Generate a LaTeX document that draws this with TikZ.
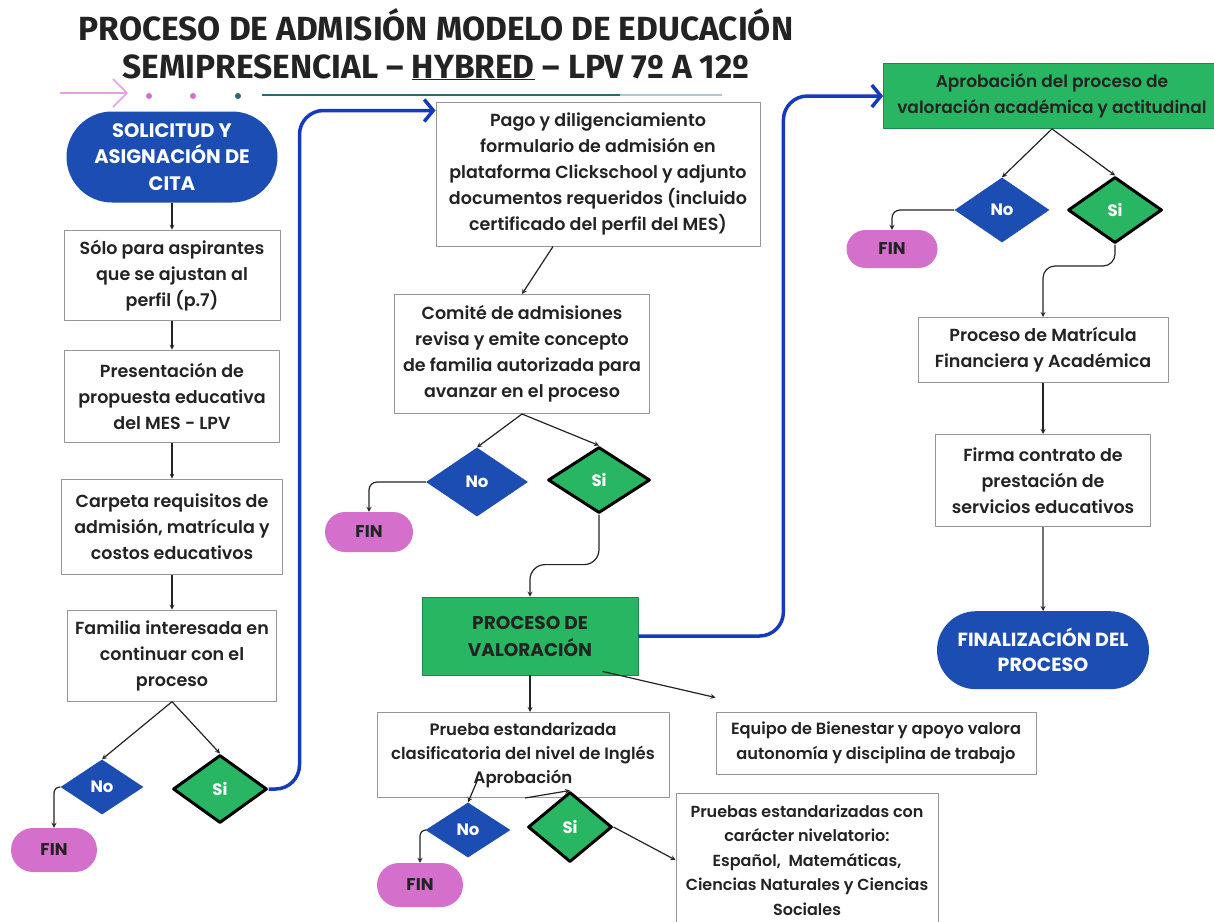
\documentclass[tikz,border=0pt]{standalone}
\usepackage{fontspec}
\setmainfont{Poppins}
\newfontfamily\medfont{Poppins SemiBold}
\newfontfamily\titlefont{Fira Sans}
\usepackage{tikz}
\usetikzlibrary{ positioning, shapes.geometric, shapes.misc, arrows, arrows.meta, calc }
\definecolor{flowblue}{RGB}{27,77,178}
\definecolor{flowgreen}{RGB}{40,182,98}
\definecolor{finpink}{RGB}{212,112,204}
\definecolor{linkblue}{RGB}{22,58,190}
\definecolor{boxgray}{RGB}{150,150,150}
\definecolor{inkdark}{RGB}{35,35,35}
\definecolor{decopink}{RGB}{228,160,226}
\definecolor{decoteal}{RGB}{45,105,110}
\definecolor{decolight}{RGB}{170,200,205}

\begin{document}
\begin{tikzpicture}[x=1pt, y=-1pt, line join=round,
stepbox/.style={rectangle, draw=boxgray, line width=1pt, fill=white,
align=center, inner sep=2pt, text=inkdark,
font=\medfont\fontsize{17.5}{26}\selectfont},
greenbox/.style={rectangle, draw=flowgreen!75!black, line width=0.8pt,
fill=flowgreen, align=center, inner sep=2pt, text=inkdark},
pill/.style={rounded rectangle, fill=#1, align=center, inner sep=2pt,
text=white, font=\bfseries\fontsize{19.5}{26.5}\selectfont},
nodiam/.style={diamond, fill=flowblue, inner sep=0pt, text=white,
font=\bfseries\fontsize{16.5}{18}\selectfont},
sidiam/.style={diamond, fill=flowgreen, draw=black, line width=3pt,
inner sep=0pt, text=white, font=\bfseries\fontsize{16.5}{18}\selectfont},
fin/.style={rounded rectangle, fill=finpink, inner sep=0pt, text=inkdark,
minimum width=86pt, minimum height=44pt,
font=\bfseries\fontsize{17}{18}\selectfont},
arrow/.style={->, line width=1.2pt, >=stealth, draw=inkdark},
bluearrow/.style={-{Straight Barb[length=9pt,width=22pt]}, line width=3.5pt,
draw=linkblue, rounded corners=24pt}
]
\useasboundingbox (0,0) rectangle (1214,921);

% Title
\node[align=center, text=inkdark,
font=\titlefont\bfseries\fontsize{33.5}{38}\selectfont] (title) at (436,44)
{PROCESO DE ADMISIÓN MODELO DE EDUCACIÓN\\SEMIPRESENCIAL – \underline{HYBRED} – LPV 7º A 12º};

% Title rule
\draw[decopink, line width=1.5pt] (60,93) -- (127,93);
\draw[decopink, line width=1.5pt] (113,79) -- (127,93) -- (113,107);
\fill[finpink] (149,96) circle (3pt);
\fill[finpink] (193,96) circle (3pt);
\fill[decoteal] (238,96) circle (3pt);
\draw[decoteal, line width=1.5pt] (262,95) -- (620,95);
\draw[decolight, line width=1.5pt] (620,95) -- (722,95);

% Solicitud
\node[pill=flowblue, minimum width=215pt, minimum height=91pt] (sol) at (172,157)
{SOLICITUD Y\\ASIGNACIÓN DE\\CITA};

% Perfil
\node[stepbox, minimum width=216pt, minimum height=90pt, below=27pt of sol] (solo)
{Sólo para aspirantes\\que se ajustan al\\perfil (p.7)};

% Presentacion
\node[stepbox, minimum width=215pt, minimum height=92pt, below=29pt of solo] (pres)
{Presentación de\\propuesta educativa\\del MES - LPV};

% Carpeta
\node[stepbox, minimum width=221pt, minimum height=95pt, below=36pt of pres] (carp)
{Carpeta requisitos de\\admisión, matrícula y\\costos educativos};

% Familia
\node[stepbox, minimum width=209pt, minimum height=91pt, below=35pt of carp] (fam)
{Familia interesada en\\continuar con el\\proceso};

% Decision 1
\node[nodiam, minimum width=83pt, minimum height=55pt] (no1) at (102,787) {No};
\node[sidiam, minimum width=94pt, minimum height=68pt] (si1) at (220,789) {Si};
\node[fin] (fin1) at (54,850) {FIN};

% Pago
\node[stepbox, minimum width=324pt, minimum height=144pt] (pago) at (598,174)
{Pago y diligenciamiento\\formulario de admisión en\\plataforma Clickschool y adjunto\\documentos requeridos (incluido\\certificado del perfil del MES)};

% Comite
\node[stepbox, minimum width=255pt, minimum height=119pt] (comite) at (522,354)
{Comité de admisiones\\revisa y emite concepto\\de familia autorizada para\\avanzar en el proceso};

% Decision 2
\node[nodiam, minimum width=102pt, minimum height=69pt] (no2) at (477,482) {No};
\node[sidiam, minimum width=102pt, minimum height=66pt] (si2) at (599,480) {Si};
\node[fin, minimum width=88pt, minimum height=40pt] (fin2) at (369,532) {FIN};

% Valoracion
\node[greenbox, minimum width=216pt, minimum height=78pt,
font=\bfseries\fontsize{18.5}{27}\selectfont] (valor) at (530,636)
{PROCESO DE\\VALORACIÓN};

% Pruebas
\node[stepbox, minimum width=292pt, minimum height=85pt,
font=\medfont\fontsize{16.5}{24}\selectfont] (prueba) at (523,755)
{Prueba estandarizada\\clasificatoria del nivel de Inglés\\Aprobación};
\node[stepbox, minimum width=320pt, minimum height=62pt,
font=\medfont\fontsize{16.2}{25}\selectfont] (equipo) at (876,743)
{Equipo de Bienestar y apoyo valora\\autonomía y disciplina de trabajo};

% Decision 3
\node[nodiam, minimum width=85pt, minimum height=55pt] (no3) at (468,830) {No};
\node[sidiam, minimum width=84pt, minimum height=70pt] (si3) at (570,827) {Si};
\node[fin] (fin3) at (420,885) {FIN};
\node[stepbox, minimum width=262pt, minimum height=134pt,
font=\medfont\fontsize{16}{24.5}\selectfont] (pruebas) at (807,860)
{Pruebas estandarizadas con\\carácter nivelatorio:\\Español,\ \ Matemáticas,\\Ciencias Naturales y Ciencias\\Sociales};

% Aprobacion
\node[greenbox, minimum width=337pt, minimum height=65pt,
font=\medfont\fontsize{17}{26}\selectfont] (aprob) at (1052,96)
{Aprobación del proceso de\\valoración académica y actitudinal};

% Decision 4
\node[nodiam, minimum width=95pt, minimum height=65pt] (no4) at (1002,210) {No};
\node[sidiam, minimum width=94pt, minimum height=66pt] (si4) at (1115,210) {Si};
\node[fin, minimum width=91pt, minimum height=38pt] (fin4) at (892,249) {FIN};

% Matricula
\node[stepbox, minimum width=250pt, minimum height=65pt] (matr) at (1043,350)
{Proceso de Matrícula\\Financiera y Académica};

% Firma
\node[stepbox, minimum width=215pt, minimum height=92pt, below=51pt of matr] (firma)
{Firma contrato de\\prestación de\\servicios educativos};

% Final
\node[pill=flowblue, minimum width=216pt, minimum height=78pt,
font=\bfseries\fontsize{19}{25}\selectfont, below=84pt of firma] (final)
{FINALIZACIÓN DEL\\PROCESO};

% Coordinates
\coordinate (pagoin) at ($(pago.north west)+(0,9)$);
\coordinate (pagoout) at ($(pago.south)+(-45,0)$);
\coordinate (valorin) at ($(valor.north)+(0,-32)$);
\coordinate (valorout) at ($(valor.south east)+(-36,-4)$);
\coordinate (equipoin) at ($(equipo.north west)+(0,-14)$);
\coordinate (pruebaout1) at ($(prueba.south)+(-45,-19)$);
\coordinate (pruebaout2) at ($(prueba.south)+(2,0)$);
\coordinate (matrin) at ($(matr.north)+(0,-51)$);

% Arrows
\draw[arrow] (sol.south) -- (sol.south |- solo.north);
\draw[arrow] (solo.south) -- (solo.south |- pres.north);
\draw[arrow] (pres.south) -- (pres.south |- carp.north);
\draw[arrow] (carp.south) -- (carp.south |- fam.north);
\draw[arrow] (fam.south) -- (no1.north);
\draw[arrow] (fam.south) -- (si1.north);
\draw[arrow, rounded corners=6pt] (no1.west) -| (fin1.north);
\draw[bluearrow] (si1.east) -- ++(31,0) |- (pagoin);
\draw[arrow] (pagoout) -- (comite.north);
\draw[arrow] (comite.south) -- (no2.north);
\draw[arrow] (comite.south) -- (si2.north);
\draw[arrow, rounded corners=8pt] (no2.west) -| (fin2.north);
\draw[arrow, rounded corners=15pt] (si2.south) |- (valorin) -- (valor.north);
\draw[bluearrow] (valor.east) -- ++(145,0) |- (aprob.west);
\draw[arrow] (valor.south) -- (valor.south |- prueba.north);
\draw[arrow] (valorout) -- (equipoin);
\draw[arrow] (pruebaout1) -- (no3.north);
\draw[arrow] (pruebaout2) -- (si3.north);
\draw[arrow, rounded corners=6pt] (no3.west) -| (fin3.north);
\draw[arrow] (si3.east) -- (pruebas.west);
\draw[arrow] (aprob.south) -- (no4.north);
\draw[arrow] (aprob.south) -- (si4.north);
\draw[arrow, rounded corners=8pt] (no4.west) -| (fin4.north);
\draw[arrow, rounded corners=12pt] (si4.south) |- (matrin) -- (matr.north);
\draw[arrow] (matr) -- (firma);
\draw[arrow] (firma) -- (final);

\end{tikzpicture}
\end{document}
